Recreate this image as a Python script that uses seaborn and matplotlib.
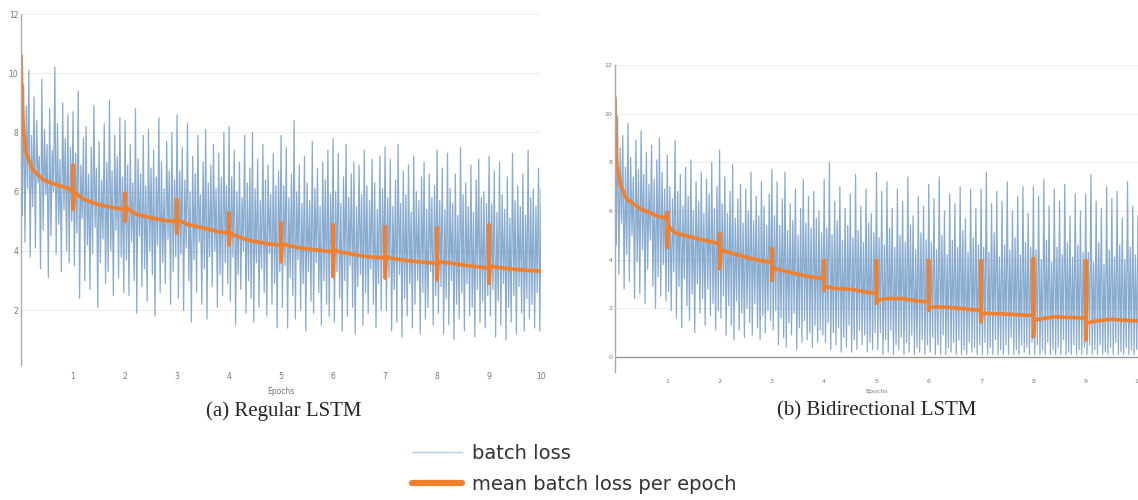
import numpy as np
import pandas as pd
import seaborn as sns
import matplotlib.pyplot as plt
from matplotlib.lines import Line2D


# batch loss, ~40 batches per epoch over 10 epochs
regular_batch_loss = [
    11.4, 5.2, 9.6, 4.3, 8.9, 6.1, 10.1, 3.8, 7.9, 5.5, 9.2, 4.1, 8.4, 6.3, 7.2, 3.4, 9.8, 4.7, 8.1, 5.9,
    7.6, 3.1, 8.8, 4.5, 7.4, 6.0, 10.2, 3.9, 8.3, 4.9, 7.1, 3.3, 9.0, 5.4, 7.8, 4.0, 8.6, 3.6, 7.5, 5.0,
    8.7, 3.5, 7.3, 4.6, 9.4, 2.4, 6.9, 5.1, 7.8, 3.0, 8.2, 4.2, 6.6, 2.7, 7.5, 3.9, 8.9, 4.8, 6.8, 2.1,
    7.7, 3.6, 6.4, 4.4, 8.3, 2.9, 7.0, 3.3, 9.1, 4.0, 6.7, 2.5, 7.9, 4.7, 7.2, 3.1, 8.5, 3.8, 6.5, 2.6,
    8.4, 3.7, 6.9, 2.5, 7.6, 4.3, 6.3, 3.0, 8.8, 1.9, 7.1, 4.5, 6.6, 2.8, 7.9, 3.4, 6.2, 2.3, 8.1, 4.0,
    6.8, 3.2, 7.4, 1.8, 6.5, 4.2, 8.5, 2.6, 7.0, 3.6, 6.1, 2.9, 7.7, 4.4, 6.7, 2.2, 8.0, 3.3, 6.4, 3.8,
    8.6, 2.4, 6.7, 3.9, 7.5, 2.0, 6.4, 4.1, 8.3, 3.0, 6.0, 1.6, 7.2, 3.7, 6.6, 2.6, 7.9, 4.3, 5.9, 2.2,
    7.0, 3.4, 8.1, 1.7, 6.3, 3.8, 6.9, 2.8, 7.6, 4.0, 6.1, 2.1, 7.3, 3.2, 6.5, 2.5, 8.0, 3.6, 6.2, 2.9,
    8.2, 2.3, 6.5, 3.8, 7.4, 1.5, 6.0, 3.2, 7.0, 2.7, 5.8, 4.0, 7.9, 1.9, 6.3, 3.0, 6.8, 2.4, 8.0, 1.6,
    6.1, 3.6, 7.1, 2.1, 5.7, 3.4, 7.6, 2.6, 6.4, 1.8, 6.9, 3.9, 5.9, 2.2, 7.3, 2.9, 6.2, 1.4, 6.7, 3.3,
    7.9, 2.1, 6.2, 3.5, 7.5, 1.4, 5.8, 3.1, 6.6, 2.5, 8.4, 1.7, 6.0, 3.7, 6.9, 2.0, 5.6, 2.9, 7.2, 1.3,
    6.3, 3.3, 5.7, 2.3, 7.7, 1.9, 6.1, 3.6, 6.8, 2.6, 5.5, 1.5, 7.0, 3.0, 6.4, 2.2, 7.4, 1.8, 5.9, 3.4,
    7.8, 1.6, 6.0, 3.3, 7.3, 2.4, 5.6, 1.3, 6.5, 3.0, 7.6, 1.8, 5.8, 3.5, 6.6, 2.1, 7.0, 1.2, 5.5, 2.8,
    6.9, 3.2, 5.9, 1.5, 7.4, 2.6, 6.2, 1.9, 5.7, 3.4, 7.1, 2.2, 6.3, 1.4, 5.4, 2.9, 7.2, 2.0, 6.1, 3.1,
    7.5, 2.0, 5.8, 3.1, 7.1, 1.3, 5.5, 2.7, 6.4, 1.6, 7.6, 3.2, 5.6, 1.1, 6.7, 2.4, 5.9, 1.8, 6.9, 2.9,
    5.3, 1.4, 7.2, 2.2, 6.0, 3.0, 5.7, 1.2, 6.5, 2.6, 7.0, 1.7, 5.4, 2.1, 6.6, 3.3, 5.8, 1.5, 6.2, 2.5,
    7.4, 1.9, 5.7, 2.8, 6.8, 1.2, 5.4, 2.4, 7.3, 1.5, 6.1, 3.0, 5.6, 1.0, 6.6, 2.2, 5.2, 1.7, 7.5, 2.6,
    5.9, 1.3, 6.3, 2.9, 5.5, 1.8, 6.9, 2.1, 5.3, 1.1, 6.4, 2.7, 7.1, 1.6, 5.8, 2.3, 6.0, 1.4, 5.6, 2.5,
    7.2, 1.8, 5.6, 2.7, 6.7, 1.1, 5.3, 2.3, 7.0, 1.5, 5.9, 2.9, 5.4, 1.0, 6.5, 2.1, 5.1, 1.6, 7.3, 2.5,
    5.7, 1.2, 6.2, 2.8, 5.5, 1.9, 6.6, 1.3, 5.2, 2.4, 7.4, 1.7, 5.8, 2.2, 6.1, 1.4, 5.5, 2.6, 6.8, 1.3,
    6.1,
]

bidir_batch_loss = [
    11.5, 4.6, 9.9, 3.4, 8.6, 5.5, 9.1, 2.8, 7.8, 4.2, 9.6, 3.1, 8.2, 5.0, 7.4, 2.4, 8.9, 3.9, 7.7, 2.6,
    9.3, 4.4, 7.5, 2.2, 8.4, 3.6, 7.1, 4.8, 8.7, 2.9, 7.3, 2.0, 8.1, 3.3, 9.0, 2.5, 7.6, 3.8, 6.9, 2.3,
    8.3, 2.7, 7.0, 1.9, 6.5, 3.5, 8.9, 1.6, 6.8, 2.9, 7.5, 1.2, 6.2, 3.2, 7.8, 2.1, 6.6, 1.5, 8.1, 2.6,
    6.0, 1.0, 7.2, 3.0, 6.4, 1.8, 7.6, 2.4, 5.9, 1.3, 7.3, 2.8, 6.7, 1.7, 8.0, 2.2, 6.1, 1.1, 7.0, 1.9,
    8.5, 1.6, 6.3, 2.5, 7.4, 0.9, 5.9, 2.1, 6.8, 1.3, 7.9, 0.7, 5.7, 2.3, 6.5, 1.1, 7.1, 1.8, 5.5, 0.8,
    6.9, 2.0, 6.0, 1.4, 7.6, 0.9, 5.6, 2.2, 6.6, 1.2, 5.8, 0.7, 7.2, 1.7, 6.2, 1.0, 5.4, 1.9, 6.7, 1.5,
    7.7, 1.1, 5.8, 1.9, 7.2, 0.5, 5.4, 1.6, 6.5, 0.8, 7.6, 0.4, 5.2, 1.4, 6.3, 0.9, 5.6, 1.8, 6.9, 0.3,
    5.0, 1.2, 6.1, 0.6, 7.3, 1.5, 5.5, 0.7, 6.6, 1.0, 5.3, 0.4, 6.8, 1.3, 5.7, 0.6, 6.0, 1.1, 5.1, 0.9,
    7.3, 0.6, 5.3, 1.4, 8.0, 0.3, 5.0, 1.0, 6.4, 0.5, 5.6, 1.2, 7.0, 0.2, 4.8, 0.8, 6.1, 0.4, 5.4, 1.3,
    6.7, 0.2, 4.9, 0.7, 7.5, 0.3, 5.2, 1.1, 6.2, 0.5, 4.7, 0.9, 6.9, 0.2, 5.5, 0.6, 5.9, 0.3, 5.1, 1.0,
    7.6, 0.3, 4.9, 1.0, 6.8, 0.1, 4.6, 0.7, 7.2, 0.2, 5.3, 1.1, 6.1, 0.1, 4.5, 0.5, 6.9, 0.3, 5.0, 0.8,
    6.4, 0.1, 4.7, 0.6, 7.4, 0.2, 5.4, 0.9, 5.8, 0.1, 4.4, 0.4, 6.6, 0.2, 5.1, 0.7, 6.2, 0.1, 4.8, 0.5,
    7.1, 0.2, 4.7, 0.8, 6.5, 0.1, 4.4, 0.5, 7.4, 0.1, 5.0, 0.9, 6.0, 0.1, 4.2, 0.4, 6.7, 0.2, 4.8, 0.6,
    6.3, 0.1, 4.5, 0.7, 7.0, 0.1, 5.2, 0.3, 5.7, 0.1, 4.3, 0.6, 6.9, 0.2, 4.9, 0.4, 6.1, 0.1, 4.6, 0.5,
    6.9, 0.1, 4.5, 0.6, 7.6, 0.1, 4.3, 0.4, 6.3, 0.1, 5.1, 0.7, 6.8, 0.1, 4.1, 0.3, 6.4, 0.1, 4.6, 0.5,
    7.2, 0.1, 4.4, 0.8, 6.0, 0.1, 4.9, 0.3, 6.6, 0.1, 4.2, 0.5, 7.0, 0.2, 4.7, 0.4, 5.9, 0.1, 4.5, 0.6,
    7.0, 0.1, 4.4, 0.5, 6.6, 0.1, 4.0, 0.3, 7.3, 0.1, 4.8, 0.6, 6.2, 0.1, 3.9, 0.3, 6.9, 0.1, 4.5, 0.4,
    6.4, 0.1, 4.2, 0.7, 7.1, 0.1, 4.7, 0.2, 5.8, 0.1, 4.1, 0.5, 6.7, 0.1, 4.6, 0.3, 6.0, 0.1, 4.3, 0.4,
    6.7, 0.1, 4.3, 0.5, 7.5, 0.1, 3.9, 0.3, 6.4, 0.1, 4.7, 0.5, 6.1, 0.1, 3.8, 0.2, 7.0, 0.1, 4.4, 0.4,
    6.5, 0.1, 4.1, 0.6, 6.8, 0.1, 4.6, 0.2, 5.7, 0.1, 4.0, 0.4, 7.2, 0.1, 4.5, 0.3, 6.2, 0.1, 4.2, 0.3,
    5.8,
]

# mean batch loss per epoch (running mean, with the jump at each epoch start)
regular_mean_epochs = [
    0, 0.02, 0.045, 0.1, 0.22, 0.43, 0.62, 0.88,
    1.0, 1.0, 1.0, 1.02, 1.05, 1.2, 1.5, 1.8,
    2.0, 2.0, 2.0, 2.02, 2.06, 2.2, 2.5, 2.8,
    3.0, 3.0, 3.0, 3.02, 3.08, 3.2, 3.5, 3.8,
    4.0, 4.0, 4.0, 4.02, 4.08, 4.3, 4.5, 4.8,
    5.0, 5.0, 5.0, 5.02, 5.1, 5.3, 5.6, 5.9,
    6.0, 6.0, 6.0, 6.02, 6.1, 6.4, 6.7, 6.95,
    7.0, 7.0, 7.0, 7.02, 7.1, 7.4, 7.7, 7.95,
    8.0, 8.0, 8.0, 8.02, 8.1, 8.3, 8.6, 8.9,
    9.0, 9.0, 9.0, 9.02, 9.1, 9.3, 9.6, 10.0,
]
regular_mean_loss = [
    10.6, 8.9, 8.1, 7.3, 6.75, 6.4, 6.27, 6.13,
    6.02, 6.9, 5.4, 6.0, 5.95, 5.75, 5.56, 5.45,
    5.4, 5.95, 5.0, 5.5, 5.42, 5.25, 5.12, 5.02,
    4.99, 5.73, 4.6, 5.05, 5.0, 4.9, 4.78, 4.65,
    4.6, 5.28, 4.2, 4.62, 4.55, 4.4, 4.32, 4.23,
    4.2, 4.95, 3.63, 4.25, 4.2, 4.12, 4.05, 3.99,
    3.98, 4.88, 3.13, 4.05, 3.98, 3.88, 3.8, 3.77,
    3.76, 4.82, 3.08, 3.82, 3.76, 3.68, 3.62, 3.59,
    3.59, 4.78, 3.02, 3.66, 3.62, 3.58, 3.5, 3.44,
    3.42, 4.88, 2.91, 3.5, 3.46, 3.42, 3.36, 3.32,
]

bidir_mean_epochs = [
    0, 0.015, 0.03, 0.1, 0.22, 0.48, 0.8,
    1.0, 1.0, 1.0, 1.01, 1.05, 1.15, 1.5, 1.8,
    2.0, 2.0, 2.0, 2.02, 2.1, 2.5, 2.8,
    3.0, 3.0, 3.0, 3.02, 3.1, 3.5, 3.8,
    4.0, 4.0, 4.0, 4.02, 4.2, 4.5, 4.8,
    5.0, 5.0, 5.0, 5.05, 5.2, 5.5, 5.8,
    6.0, 6.0, 6.0, 6.02, 6.3, 6.6, 6.9,
    7.0, 7.0, 7.0, 7.02, 7.2, 7.5, 7.8,
    8.0, 8.0, 8.0, 8.02, 8.1, 8.4, 8.7,
    9.0, 9.0, 9.0, 9.02, 9.2, 9.5, 9.8, 10.0,
]
bidir_mean_loss = [
    10.65, 9.0, 8.0, 7.1, 6.5, 6.1, 5.8,
    5.67, 5.93, 4.5, 5.45, 5.3, 5.1, 4.9, 4.75,
    4.65, 5.06, 3.63, 4.45, 4.35, 4.1, 3.95,
    3.89, 4.45, 3.14, 3.7, 3.6, 3.4, 3.27,
    3.22, 3.96, 2.73, 2.9, 2.82, 2.78, 2.67,
    2.62, 3.96, 2.2, 2.35, 2.4, 2.4, 2.3,
    2.26, 3.96, 1.92, 2.05, 2.05, 2.0, 1.93,
    1.92, 3.96, 1.44, 1.8, 1.78, 1.76, 1.72,
    1.71, 4.04, 0.83, 1.5, 1.55, 1.65, 1.62,
    1.6, 3.96, 0.69, 1.4, 1.48, 1.55, 1.5, 1.48,
]

N_EPOCHS = 10
epoch_ticks = [1, 2, 3, 4, 5, 6, 7, 8, 9, 10]
regular_y_ticks = [2, 4, 6, 8, 10, 12]
bidir_y_ticks = [0, 2, 4, 6, 8, 10, 12]
captions = ["(a) Regular LSTM", "(b) Bidirectional LSTM"]
legend_labels = ["batch loss", "mean batch loss per epoch"]

BLUE = "#3a74b0"
ORANGE = "#f07f2e"
GRAY = "#777777"


def draw_panel(ax, batch_loss, mean_epochs, mean_loss, y_ticks, ylim, tick_size):
    batch = pd.DataFrame({
        "epoch": np.linspace(0, N_EPOCHS, len(batch_loss)),
        "loss": batch_loss,
    })
    mean = pd.DataFrame({"epoch": mean_epochs, "loss": mean_loss})

    sns.lineplot(data=batch, x="epoch", y="loss", ax=ax, estimator=None, sort=False,
                 color=BLUE, linewidth=0.9, alpha=0.6)
    sns.lineplot(data=mean, x="epoch", y="loss", ax=ax, estimator=None, sort=False,
                 color=ORANGE, linewidth=2.6)

    ax.set_xlim(0, N_EPOCHS)
    ax.set_ylim(*ylim)
    ax.set_xticks(epoch_ticks)
    ax.set_yticks(y_ticks)
    ax.yaxis.grid(True, color="#eeeeee", linewidth=0.8)
    ax.set_axisbelow(True)
    for side in ["top", "right", "bottom"]:
        ax.spines[side].set_visible(False)
    ax.spines["left"].set_color("#aaaaaa")
    ax.spines["left"].set_linewidth(1.0)
    ax.tick_params(axis="x", length=2, color="#999999", labelsize=tick_size,
                   labelcolor=GRAY, pad=3)
    ax.tick_params(axis="y", length=0, labelsize=tick_size, labelcolor=GRAY, pad=2)
    ax.set_xlabel("Epochs", fontsize=tick_size, color=GRAY, labelpad=4)
    ax.set_ylabel("")


sns.set_style("white")
fig = plt.figure(figsize=(11.38, 5.0), dpi=100)

ax_reg = fig.add_axes([0.0185, 0.27, 0.457, 0.702])
draw_panel(ax_reg, regular_batch_loss, regular_mean_epochs, regular_mean_loss,
           regular_y_ticks, (0.15, 12.0), 5.5)

ax_bi = fig.add_axes([0.5404, 0.256, 0.4596, 0.614])
draw_panel(ax_bi, bidir_batch_loss, bidir_mean_epochs, bidir_mean_loss,
           bidir_y_ticks, (-0.62, 12.0), 4.5)
ax_bi.axhline(0, color="#999999", linewidth=1.0)

# captions below each panel
fig.text(0.249, 0.178, captions[0], ha="center", va="center",
         family="Liberation Serif", fontsize=15)
fig.text(0.770, 0.178, captions[1], ha="center", va="center",
         family="Liberation Serif", fontsize=15)

handles = [
    Line2D([], [], color="#b5d0ea", linewidth=1.0),
    Line2D([], [], color=ORANGE, linewidth=4.5),
]
fig.legend(handles, legend_labels, loc="upper left", bbox_to_anchor=(0.362, 0.112),
           frameon=False, fontsize=14, handlelength=2.57, handletextpad=0.5,
           labelspacing=0.6, borderpad=0, borderaxespad=0, labelcolor="#333333")

fig.savefig("out.png", dpi=100)
